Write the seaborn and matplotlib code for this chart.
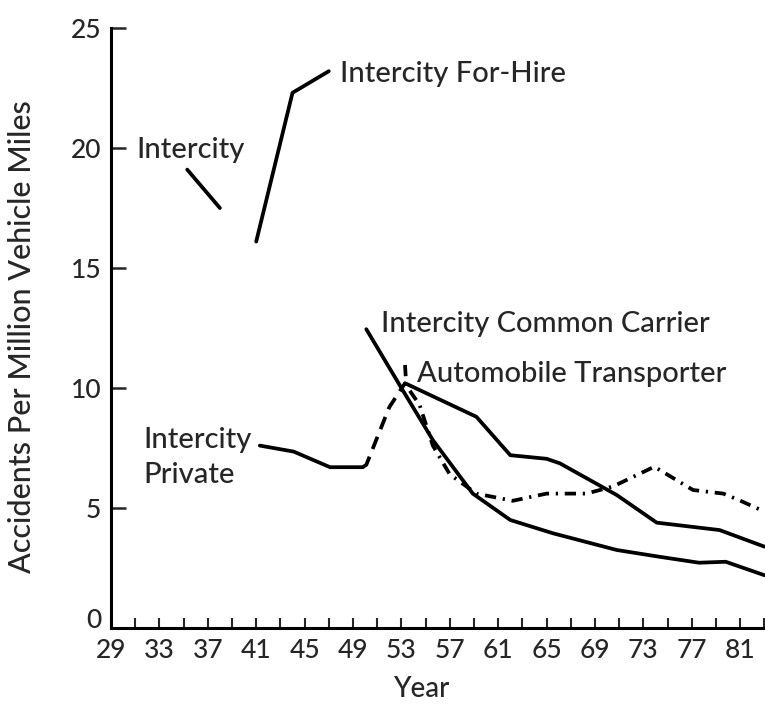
import matplotlib
matplotlib.use('Agg')
import matplotlib.pyplot as plt
import seaborn as sns

# values (year 19xx, accidents per million vehicle miles)
intercity_years = [35.3, 38.0]
intercity_vals = [19.1, 17.5]

for_hire_years = [41.0, 44.0, 47.0]
for_hire_vals = [16.1, 22.3, 23.2]

private_years_a = [41.3, 44.1, 47.1, 49.8]
private_vals_a = [7.6, 7.35, 6.7, 6.7]
private_years_gap = [49.8, 50.1, 52.0, 53.3]
private_vals_gap = [6.7, 6.8, 9.2, 10.2]
private_years_b = [53.3, 59.2, 62.0, 65.0, 66.1, 70.8, 74.1, 79.3, 83.0]
private_vals_b = [10.2, 8.8, 7.2, 7.05, 6.86, 5.54, 4.39, 4.08, 3.39]

common_years = [50.1, 53.0, 55.6, 58.9, 62.0, 65.5, 70.8, 74.3, 77.6, 79.8, 83.0]
common_vals = [12.45, 10.0, 7.83, 5.6, 4.5, 3.95, 3.25, 2.97, 2.72, 2.76, 2.2]

transporter_years = [53.3, 53.4, 54.5, 55.6, 57.0, 59.2, 62.2, 65.0, 68.3, 70.5, 73.9, 77.1, 79.6, 80.9, 83.0]
transporter_vals = [10.96, 10.1, 9.3, 7.6, 6.4, 5.6, 5.3, 5.6, 5.6, 5.9, 6.72, 5.75, 5.6, 5.33, 4.85]

x_major = list(range(29, 82, 4))
x_minor = list(range(31, 84, 4))
y_ticks = [0, 5, 10, 15, 20, 25]

sns.set_style('ticks')
plt.rcParams['font.family'] = ['Lato', 'DejaVu Sans']

fig = plt.figure(figsize=(7.65, 7.06), dpi=100)
ax = fig.add_axes([111 / 765, 78 / 706, 654 / 765, 600 / 706])

lw = 2.7
line_kw = dict(ax=ax, color='black', lw=lw, sort=False, estimator=None,
               solid_capstyle='round', clip_on=False)

sns.lineplot(x=intercity_years, y=intercity_vals, **line_kw)
sns.lineplot(x=for_hire_years, y=for_hire_vals, **line_kw)
sns.lineplot(x=private_years_a, y=private_vals_a, **line_kw)
sns.lineplot(x=private_years_gap, y=private_vals_gap, ls=(0, (3.5, 2.2)), **line_kw)
sns.lineplot(x=private_years_b, y=private_vals_b, **line_kw)
sns.lineplot(x=common_years, y=common_vals, **line_kw)
sns.lineplot(x=transporter_years, y=transporter_vals, ls=(0, (3.0, 1.8, 0.6, 1.8)), **line_kw)

ax.set_xlim(29, 83.05)
ax.set_ylim(0, 25)
ax.set_xticks(x_major)
ax.set_xticklabels([str(v) for v in x_major])
ax.set_xticks(x_minor, minor=True)
ax.set_yticks(y_ticks)

fs = 21
tick_fs = 19
wt = 'medium'
ax.tick_params(axis='y', left=True, direction='in', length=10.5, width=1.8, pad=7, labelsize=tick_fs)
ax.tick_params(axis='x', which='both', bottom=True, direction='in', length=7, width=1.5, pad=7,
               labelsize=tick_fs)
for lab in ax.get_xticklabels() + ax.get_yticklabels():
    lab.set_fontweight(wt)
# the "0" sits just above the corner in the original
ax.get_yticklabels()[0].set_va('baseline')

for side in ['top', 'right']:
    ax.spines[side].set_visible(False)
for side in ['left', 'bottom']:
    ax.spines[side].set_linewidth(2.2)
    ax.spines[side].set_color('black')

ax.set_xlabel('Year', fontsize=20, fontweight=wt)
ax.xaxis.set_label_coords(0.474, -0.08)
ax.set_ylabel('Accidents Per Million Vehicle Miles', fontsize=22, fontweight=wt)
ax.yaxis.set_label_coords(-0.115, 0.485)

# series labels
ax.text(31.1, 19.6, 'Intercity', fontsize=fs, va='baseline', fontweight=wt)
ax.text(47.9, 22.76, 'Intercity For-Hire', fontsize=fs, va='baseline', fontweight=wt)
ax.text(51.35, 12.35, 'Intercity Common Carrier', fontsize=fs, va='baseline', fontweight=wt)
ax.text(54.25, 10.26, 'Automobile Transporter', fontsize=fs, va='baseline', fontweight=wt)
ax.text(31.67, 7.49, 'Intercity', fontsize=fs, va='baseline', fontweight=wt)
ax.text(31.67, 6.03, 'Private', fontsize=fs, va='baseline', fontweight=wt)

fig.savefig('out.png', dpi=100, facecolor='white')
